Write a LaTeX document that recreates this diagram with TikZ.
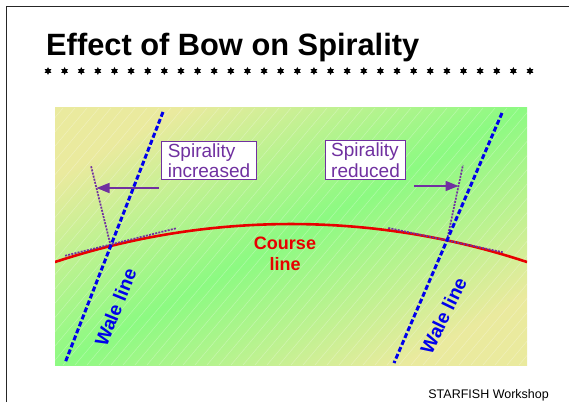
\documentclass[tikz,border=0pt]{standalone}
\usepackage{fontspec}
\setmainfont{Liberation Sans}
\usetikzlibrary{calc,arrows.meta,shapes.geometric}

\definecolor{spiralpurple}{RGB}{112,48,160}
\definecolor{coursered}{RGB}{232,0,0}
\definecolor{waleblue}{RGB}{0,0,235}
\definecolor{fieldyellow}{RGB}{234,234,158}
\definecolor{fieldgreen}{RGB}{140,250,130}
\pgfdeclarehorizontalshading{bowshade}{100bp}{color(0bp)=(fieldyellow); color(25bp)=(fieldyellow);
  color(50bp)=(fieldgreen); color(75bp)=(fieldyellow); color(100bp)=(fieldyellow)}

\begin{document}
\begin{tikzpicture}[x=1pt, y=1pt,
  wale/.style={waleblue, line width=3pt, dash pattern=on 5pt off 2.5pt},
  guide/.style={spiralpurple, line width=1.7pt, dash pattern=on 2pt off 1.2pt},
  callout/.style={draw=spiralpurple, line width=0.8pt, fill=white, text=spiralpurple,
    align=left, font=\fontsize{19}{20.5}\selectfont, inner xsep=6pt, inner ysep=2pt},
  pointer/.style={spiralpurple, line width=1.6pt, -{Triangle[length=13pt,width=10pt]}},
  walelabel/.style={text=waleblue, font=\bfseries\fontsize{19}{22}\selectfont}]
  \useasboundingbox (0,0) rectangle (569,402);
  % slide frame
  \draw[line width=1.6pt, black!85] (6.5,0) |- (569,395.5);
  % title and star rule
  \node[anchor=base west, inner sep=0, font=\bfseries\fontsize{30.8}{36}\selectfont] (title) at (46,346) {Effect of Bow on Spirality};
  \foreach \i in {0,...,29}
    \node[star, star points=6, star point ratio=1.9, fill, inner sep=0, minimum size=8pt] (star\i) at ({48+16.62*\i},331) {};
  % fabric panel 55..527 x 37..294
  \shade[shading=bowshade, shading angle=-61] (55,37) rectangle (527,294);
  \begin{scope}
    \clip (55,37) rectangle (527,294);
    \foreach \x in {-165,-153,...,527}
      \draw[white, opacity=0.3, line width=0.5pt] (\x,37) -- ++(216,257);
    % course line: centre (291,-574), r=752, ends at x=55 and x=527
    \coordinate (C) at (291,-574);
    \draw[coursered, line width=2.6pt] ($(C)+(108.3:752)$) arc[start angle=108.3, end angle=71.7, radius=752];
  \end{scope}
  % crossings of the wale lines with the course line
  \coordinate (L) at ($(C)+(103.87:752)$);
  \coordinate (R) at ($(C)+(78.03:752)$);
  % tangent and normal at each crossing
  \draw[guide] ($(L)+(13.87:-47)+(0,1.5)$) -- ($(L)+(13.87:68)+(0,1.5)$);
  \draw[guide] (L) -- ($(L)+(103.87:82)$);
  \draw[guide] ($(R)+(-11.97:-60)$) -- ($(R)+(-11.97:57)$);
  \draw[guide] (R) -- ($(R)+(78.03:77)$);
  % wale lines
  \draw[wale] (163,290) -- (65,39);
  \draw[wale] (502,289) -- (394,39);
  % callouts
  \node[callout] (incbox) at (209,241.5) {Spirality\\increased};
  \node[callout] (redbox) at (365.5,242) {Spirality\\reduced};
  \coordinate (incfrom) at (159,214);
  \coordinate (inctip) at (96.5,214);
  \coordinate (redfrom) at (414,216);
  \coordinate (redtip) at (458.5,216);
  \draw[pointer] (incfrom) -- (inctip);
  \draw[pointer] (redfrom) -- (redtip);
  % labels
  \node[text=coursered, font=\bfseries\fontsize{18}{21}\selectfont, align=center] (course) at (285,148) {Course\\line};
  \node[walelabel, rotate=68] (walel) at (115.5,94.5) {Wale line};
  \node[walelabel, rotate=64] (waler) at (443.5,86.5) {Wale line};
  \node[anchor=base east, inner sep=0, font=\fontsize{12.5}{15}\selectfont] (footer) at (549,4) {STARFISH Workshop};
\end{tikzpicture}
\end{document}
